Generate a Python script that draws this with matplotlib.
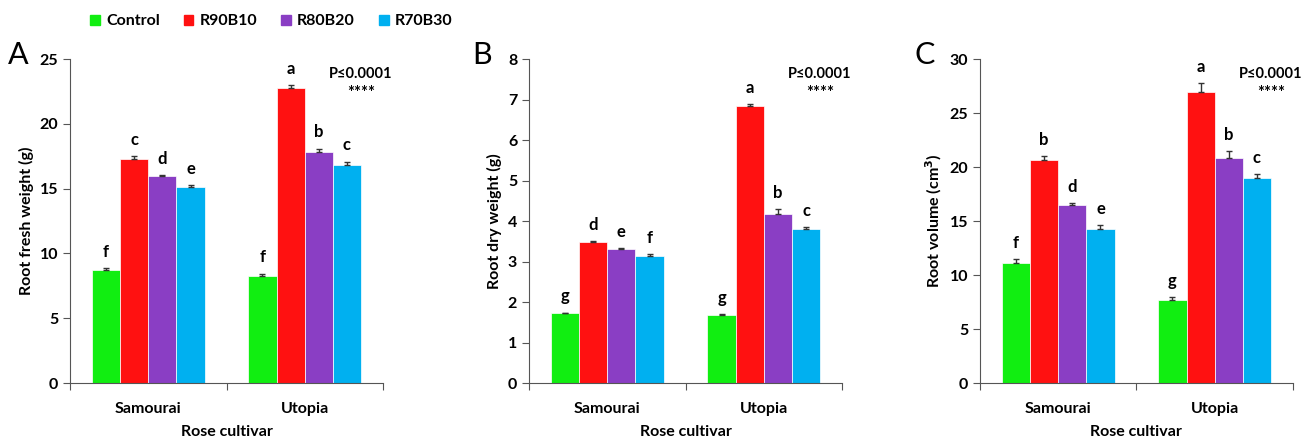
import matplotlib
matplotlib.use('Agg')
import matplotlib.pyplot as plt
import numpy as np
from matplotlib.patches import Patch

plt.rcParams['font.family'] = ['Lato', 'DejaVu Sans']
plt.rcParams['font.weight'] = 'bold'

# donnees
cultivars = ['Samourai', 'Utopia']
treatments = ['Control', 'R90B10', 'R80B20', 'R70B30']
colors = ['#11ee11', '#ff1111', '#8a3ec4', '#00b0f0']

fresh_mean = [[8.75, 8.30], [17.3, 22.8], [15.95, 17.85], [15.15, 16.85]]
fresh_err = [[0.10, 0.15], [0.20, 0.20], [0.10, 0.25], [0.10, 0.25]]
fresh_letters = [['f', 'f'], ['c', 'a'], ['d', 'b'], ['e', 'c']]

dry_mean = [[1.72, 1.68], [3.49, 6.85], [3.31, 4.17], [3.15, 3.80]]
dry_err = [[0.02, 0.02], [0.02, 0.04], [0.02, 0.12], [0.03, 0.06]]
dry_letters = [['g', 'g'], ['d', 'a'], ['e', 'b'], ['f', 'c']]

vol_mean = [[11.1, 7.7], [20.7, 27.0], [16.5, 20.85], [14.3, 19.0]]
vol_err = [[0.35, 0.30], [0.30, 0.80], [0.20, 0.60], [0.30, 0.40]]
vol_letters = [['f', 'g'], ['b', 'a'], ['d', 'b'], ['e', 'c']]

panels = [
    ('A', fresh_mean, fresh_err, fresh_letters, 'Root fresh weight (g)', 25, 5, 0.0537, 0.014),
    ('B', dry_mean, dry_err, dry_letters, 'Root dry weight (g)', 8, 1, 0.4057, 0.370),
    ('C', vol_mean, vol_err, vol_letters, 'Root volume (cm$^3$)', 30, 5, 0.7515, 0.709),
]

fig = plt.figure(figsize=(13.04, 4.4), dpi=100)
x = np.arange(len(cultivars))
w = 0.18

for name, means, errs, letters, ylab, ymax, step, left, lx in panels:
    ax = fig.add_axes([left, 0.1295, 0.240, 0.736])
    for i in range(len(treatments)):
        pos = x + (i - 1.5) * w
        m = np.array(means[i])
        e = np.array(errs[i])
        ax.bar(pos, m, w, color=colors[i], edgecolor='white', linewidth=0.5, zorder=2)
        ax.errorbar(pos, m, yerr=[np.zeros_like(e), e], fmt='none', ecolor='#333333',
                    elinewidth=1, capsize=2.5, capthick=1, zorder=3)
        for j in range(len(cultivars)):
            ax.text(pos[j], m[j] + e[j] + ymax * 0.025, letters[i][j], ha='center', va='bottom',
                    fontsize=12, fontweight='bold')
    ax.set_xlim(-0.5, 1.5)
    ax.set_ylim(0, ymax)
    ax.set_yticks(np.arange(0, ymax + step / 2, step))
    ax.set_xticks([-0.5, 0.5, 1.5])
    ax.set_xticklabels([])
    ax.set_xticks(x, minor=True)
    ax.set_xticklabels(cultivars, minor=True, fontsize=11.5, fontweight='bold')
    ax.tick_params(axis='x', which='minor', length=0, pad=14)
    ax.tick_params(axis='x', which='major', length=5, direction='out', color='#555555')
    ax.tick_params(axis='y', length=5, direction='out', color='#555555', labelsize=11.5)
    for lab in ax.get_yticklabels():
        lab.set_fontweight('bold')
    for s in ['top', 'right']:
        ax.spines[s].set_visible(False)
    for s in ['left', 'bottom']:
        ax.spines[s].set_color('#555555')
    ax.set_ylabel(ylab, fontsize=11.5, fontweight='bold')
    ax.set_xlabel('Rose cultivar', fontsize=11.5, fontweight='bold', labelpad=6)
    ax.text(1.36, ymax * 0.955, 'P≤0.0001', ha='center', va='center', fontsize=10.5, fontweight='bold')
    ax.text(1.36, ymax * 0.895, '****', ha='center', va='center', fontsize=12, fontweight='bold')
    fig.text(lx, 0.875, name, fontsize=22, fontweight='normal', ha='center', va='center')

handles = [Patch(color=c, label=t) for c, t in zip(colors, treatments)]
fig.legend(handles=handles, loc='upper left', bbox_to_anchor=(0.058, 1.0), ncol=4, frameon=False,
           prop={'size': 11.5, 'weight': 'bold'}, handlelength=0.6, handleheight=0.6,
           columnspacing=1.5, handletextpad=0.4)

fig.savefig('out.png', dpi=100)
